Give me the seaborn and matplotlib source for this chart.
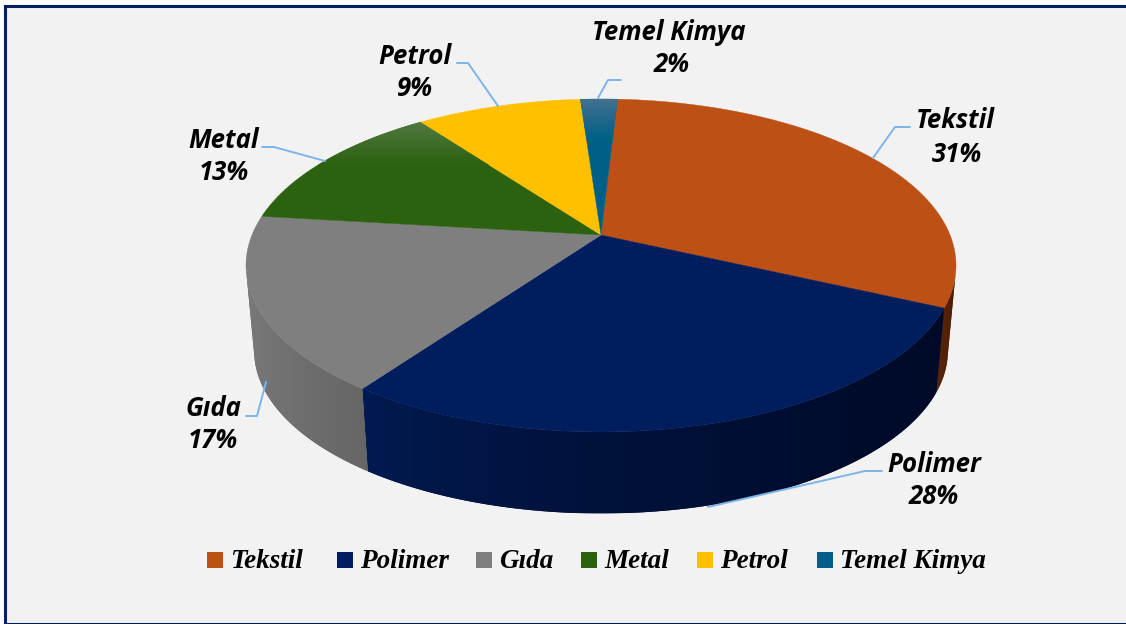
import numpy as np
import pandas as pd
import matplotlib
matplotlib.use('Agg')
import matplotlib.pyplot as plt
from matplotlib.colors import LinearSegmentedColormap
from matplotlib.patches import Polygon, Rectangle
import seaborn as sns

# --- Data ---
categories = ['Tekstil', 'Polimer', 'Gıda', 'Metal', 'Petrol', 'Temel Kimya']
shares = [31, 28, 17, 13, 9, 2]

top_colors = ['#BD5014', '#001E5E', '#7F7F7F', '#2B610F', '#FFC000', '#005F86']
# wall shading, from the left end of each wall to its right end
side_left = ['#5E2709', '#011B52', '#7A7A7A', '#2B610F', '#FFC000', '#005F86']
side_right = ['#4E1E05', '#000A28', '#666666', '#2B610F', '#FFC000', '#005F86']

# --- Pie geometry (pixels of the figure) ---
CX, CY = 601, 235
SX, SY = 349, 160.9
PERSP = 0.1832
DEPTH = 86
SHRINK = 0.977
START = 3.2
# part of the rim that faces the viewer
FRONT = (104, 256)


def top_xy(angle):
    # angle in degrees, clockwise from the far side of the disc
    a = np.radians(angle)
    x, y = np.sin(a), np.cos(a)
    w = 1 + PERSP * y
    return CX + SX * x / w, CY - SY * y / w


def low_xy(angle):
    x, y = top_xy(angle)
    return CX + (x - CX) * SHRINK, CY + (y - CY) * SHRINK + DEPTH


sns.set_theme(style='white')
fig = plt.figure(figsize=(11.26, 6.24), dpi=100, facecolor='white')
ax = fig.add_axes([0, 0, 1, 1])
ax.axis('off')

ax.add_patch(Rectangle((4.5, 5.5), 1130, 618, facecolor='#F2F2F2',
                       edgecolor='#002060', linewidth=2.2, zorder=0))

df = pd.DataFrame({'category': categories, 'share': shares})
df['sweep'] = df['share'] / df['share'].sum() * 360
df['end'] = START + df['sweep'].cumsum()
df['start'] = df['end'] - df['sweep']

# Side walls of the slices facing the viewer, shaded left to right
for i, row in df.iterrows():
    a0, a1 = max(row['start'], FRONT[0]), min(row['end'], FRONT[1])
    if a0 >= a1:
        continue
    arc = np.linspace(a0, a1, 200)
    tx, ty = top_xy(arc)
    lx, ly = low_xy(arc)
    pts = np.column_stack([np.r_[tx, lx[::-1]], np.r_[ty, ly[::-1]]])
    wall = Polygon(pts, closed=True, facecolor=side_right[i], edgecolor='none', zorder=1)
    ax.add_patch(wall)
    cmap = LinearSegmentedColormap.from_list('w', [side_left[i], side_right[i]])
    x0, x1 = pts[:, 0].min(), pts[:, 0].max()
    img = ax.imshow(np.linspace(0, 1, 256).reshape(1, -1) ** 0.7, cmap=cmap, aspect='auto',
                    extent=[x0, x1, pts[:, 1].max(), pts[:, 1].min()], zorder=1)
    img.set_clip_path(wall)

# Top face of the slices
faces = []
for i, row in df.iterrows():
    arc = np.linspace(row['start'], row['end'], int(row['sweep'] * 2) + 2)
    px, py = top_xy(arc)
    pts = np.column_stack([np.r_[CX, px], np.r_[CY, py]])
    face = Polygon(pts, closed=True, facecolor=top_colors[i],
                   edgecolor=top_colors[i], linewidth=0.3, zorder=2)
    ax.add_patch(face)
    faces.append(face)

# Light gradient on the two far slices
grad_specs = [(3, '#557B46', 118, 165), (5, '#44718F', 98, 140)]
for idx, light, y0, y1 in grad_specs:
    cmap = LinearSegmentedColormap.from_list('g', [light, top_colors[idx]])
    img = ax.imshow(np.linspace(0, 1, 64).reshape(-1, 1), cmap=cmap, aspect='auto',
                    extent=[200, 700, y1, y0], zorder=3)
    img.set_clip_path(faces[idx])

# Leader lines
leaders = [
    ([873, 895, 910], [158, 127, 127]),
    ([708, 865, 882], [507, 471, 471]),
    ([266, 257, 246], [382, 416, 416]),
    ([325, 274, 262], [161, 147, 147]),
    ([498, 468, 457], [106, 63, 63]),
    ([598, 608, 621], [98, 80, 80]),
]
for lx, ly in leaders:
    ax.plot(lx, ly, color='#7DB4EA', linewidth=1.4, zorder=4)

# Data labels
label_pos = [(955, 121, 957, 154), (934, 464, 934, 497), (213, 408, 213, 441),
             (224, 140, 224, 172), (415, 56, 415, 89), (669, 33, 672, 65)]
for name, share, (x1, y1, x2, y2) in zip(categories, shares, label_pos):
    ax.text(x1, y1, name, ha='center', va='center', family='Open Sans',
            fontsize=18.5, fontweight='bold', fontstyle='italic', color='black', zorder=5)
    ax.text(x2, y2, f'{share}%', ha='center', va='center', family='Open Sans',
            fontsize=18.5, fontweight='bold', fontstyle='italic', color='black', zorder=5)

# Legend
legend_x = [207, 337, 476, 581, 697, 817]
for name, col, lx in zip(categories, top_colors, legend_x):
    ax.add_patch(Rectangle((lx, 552), 16, 16, facecolor=col, edgecolor='none', zorder=5))
    ax.text(lx + 23, 562, name, ha='left', va='center', family='Liberation Serif',
            fontsize=19.5, fontweight='bold', fontstyle='italic', color='black', zorder=5)

ax.set_xlim(0, 1126)
ax.set_ylim(624, 0)

plt.savefig('out.png', dpi=100, facecolor='white')
